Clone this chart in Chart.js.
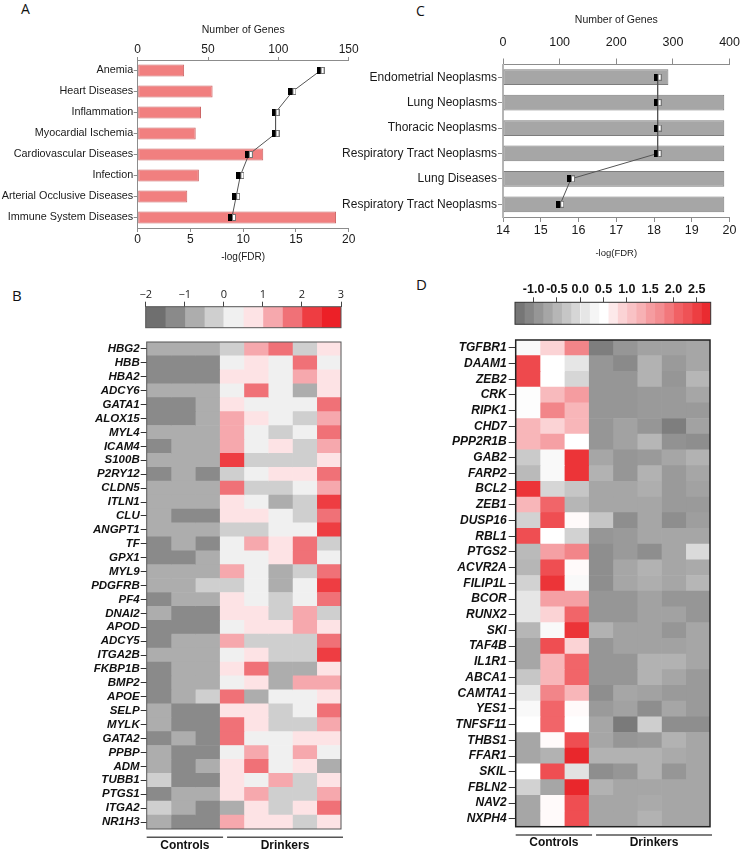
<!DOCTYPE html>
<html>
<head>
<meta charset="utf-8">
<script src="https://cdn.jsdelivr.net/npm/chart.js@4.4.0/dist/chart.umd.min.js"></script>
<style>
  body { margin: 0; background: #fff; }
  #wrap { position: relative; width: 748px; height: 850px; overflow: hidden; }
  canvas { position: absolute; }
  .tag { position: absolute; font-family: 'Open Sans', sans-serif; line-height: 1; color: #111; }
</style>
</head>
<body>
<div id="wrap">
  <div class="tag" style="left:21px;top:2px;font-size:14px">A</div>
  <div class="tag" style="left:416px;top:4px;font-size:14px">C</div>
  <div class="tag" style="left:12px;top:288px;font-size:15px">B</div>
  <div class="tag" style="left:416px;top:277px;font-size:15px">D</div>

  <canvas id="chartA" width="370" height="270" style="left:0;top:0"></canvas>
  <canvas id="chartC" width="418" height="270" style="left:330px;top:0"></canvas>
  <canvas id="scaleB" width="230" height="56" style="left:130px;top:276px"></canvas>
  <canvas id="heatB" width="360" height="516" style="left:0;top:334px"></canvas>
  <canvas id="scaleD" width="248" height="60" style="left:500px;top:270px"></canvas>
  <canvas id="heatD" width="378" height="520" style="left:370px;top:330px"></canvas>
</div>
<script>
// ---- panel A: diseases (blood) ----
const diseasesA = ['Anemia', 'Heart Diseases', 'Inflammation', 'Myocardial Ischemia',
  'Cardiovascular Diseases', 'Infection', 'Arterial Occlusive Diseases', 'Immune System Diseases'];
const fdrA = [4.4, 7.1, 6.0, 5.5, 11.9, 5.8, 4.7, 18.8];
const genesA = [130, 110, 98, 98, 79, 73, 70, 67];

// ---- panel C: diseases (lung) ----
const diseasesC = ['Endometrial Neoplasms', 'Lung Neoplasms', 'Thoracic Neoplasms',
  'Respiratory Tract Neoplasms', 'Lung Diseases', 'Respiratory Tract Neoplasms'];
const fdrC = [18.38, 19.86, 19.86, 19.86, 19.86, 19.86];
const genesC = [273, 273, 273, 273, 120, 101];

// ---- panel B heatmap ----
const genesB = ['HBG2', 'HBB', 'HBA2', 'ADCY6', 'GATA1', 'ALOX15', 'MYL4', 'ICAM4', 'S100B', 'P2RY12',
  'CLDN5', 'ITLN1', 'CLU', 'ANGPT1', 'TF', 'GPX1', 'MYL9', 'PDGFRB', 'PF4', 'DNAI2', 'APOD', 'ADCY5',
  'ITGA2B', 'FKBP1B', 'BMP2', 'APOE', 'SELP', 'MYLK', 'GATA2', 'PPBP', 'ADM', 'TUBB1', 'PTGS1', 'ITGA2', 'NR1H3'];
// 3 controls, 5 drinkers
const valsB = [
  [-0.75, -0.75, -0.75, -0.25, 1.25, 1.75, -0.25, 0.75],
  [-1.25, -1.25, -1.25, 0.25, 0.75, 0.25, 1.75, 0.25],
  [-1.25, -1.25, -1.25, 0.75, 0.75, 0.25, 1.25, 0.75],
  [-0.75, -0.75, -0.75, 0.25, 1.75, 0.25, -0.75, 0.75],
  [-1.25, -1.25, -0.75, 0.75, 0.25, 0.25, 0.25, 1.75],
  [-1.25, -1.25, -0.75, 1.25, 0.75, 0.25, -0.25, 1.25],
  [-0.75, -0.75, -0.75, 1.25, 0.25, -0.25, 0.25, 1.75],
  [-1.25, -0.75, -0.75, 1.25, 0.25, 0.75, -0.25, 1.25],
  [-0.75, -0.75, -0.75, 2.25, -0.25, -0.25, -0.25, 0.75],
  [-1.25, -0.75, -1.25, -0.25, 0.25, 0.75, 0.75, 1.75],
  [-0.75, -0.75, -0.75, 1.75, -0.25, -0.25, 0.25, 1.25],
  [-0.75, -0.75, -0.75, 0.75, 0.25, -0.75, -0.25, 2.25],
  [-0.75, -1.25, -1.25, 0.75, 0.75, 0.25, -0.25, 1.75],
  [-0.75, -0.75, -0.75, -0.25, -0.25, 0.25, 0.25, 2.25],
  [-1.25, -0.75, -1.25, 0.25, 1.25, 0.75, 1.75, -0.25],
  [-1.25, -1.25, -0.75, 0.25, 0.25, 0.75, 1.75, 0.25],
  [-0.75, -0.75, -0.75, 1.25, 0.25, -0.75, -0.25, 1.75],
  [-0.75, -0.75, -0.25, -0.25, 0.25, -0.75, 0.25, 2.25],
  [-1.25, -0.75, -0.75, 0.75, 0.25, -0.25, 0.25, 1.75],
  [-0.75, -1.25, -1.25, 0.75, 0.75, -0.25, 1.25, -0.25],
  [-1.25, -1.25, -1.25, 0.25, 0.75, 0.75, 1.25, 0.75],
  [-1.25, -0.75, -0.75, 1.25, -0.25, -0.25, -0.25, 1.75],
  [-0.75, -0.75, -0.75, 0.25, 0.75, -0.25, -0.25, 2.25],
  [-1.25, -0.75, -0.75, 0.75, 1.75, -0.75, -0.75, 0.75],
  [-1.25, -0.75, -0.75, 0.25, 0.75, -0.75, 1.25, 1.25],
  [-1.25, -0.75, -0.25, 1.75, -0.75, 0.25, 0.25, 0.75],
  [-0.75, -1.25, -1.25, 0.75, 0.75, -0.25, 0.25, 1.75],
  [-0.75, -1.25, -1.25, 1.75, 0.75, -0.25, -0.25, 1.25],
  [-1.25, -0.75, -1.25, 1.75, 0.25, 0.25, 0.75, 0.75],
  [-0.75, -1.25, -1.25, 0.25, 1.25, 0.25, 1.25, 0.25],
  [-0.75, -1.25, -0.75, 0.75, 1.75, 0.25, 0.75, -0.75],
  [-0.25, -1.25, -1.25, 0.75, 0.25, 1.25, -0.25, 0.75],
  [-1.25, -0.75, -0.75, 0.75, 1.25, -0.25, -0.25, 1.25],
  [-0.25, -0.75, -1.25, -0.75, 0.75, -0.25, 0.75, 1.75],
  [-0.75, -1.25, -1.25, 1.25, 0.75, 0.75, -0.25, 0.75]
];
const edgesB = [-2, -1.5, -1, -0.5, 0, 0.5, 1, 1.5, 2, 2.5, 3];
const paletteB = ['#6f6f6f', '#8a8a8a', '#adadad', '#cfcfcf', '#f0f0f0',
  '#fde3e5', '#f6a8ad', '#f07177', '#ee3d42', '#ec2027'];

// ---- panel D heatmap ----
const genesD = ['TGFBR1', 'DAAM1', 'ZEB2', 'CRK', 'RIPK1', 'CHD7', 'PPP2R1B', 'GAB2', 'FARP2', 'BCL2',
  'ZEB1', 'DUSP16', 'RBL1', 'PTGS2', 'ACVR2A', 'FILIP1L', 'BCOR', 'RUNX2', 'SKI', 'TAF4B', 'IL1R1',
  'ABCA1', 'CAMTA1', 'YES1', 'TNFSF11', 'THBS1', 'FFAR1', 'SKIL', 'FBLN2', 'NAV2', 'NXPH4'];
const valsD = [
  [0.35, 0.9, 1.8, -1.2, -0.9, -0.75, -0.75, -0.7],
  [2.4, 0.5, 0.1, -0.9, -1.05, -0.55, -0.85, -0.7],
  [2.4, 0.5, -0.1, -0.9, -0.9, -0.55, -0.9, -0.5],
  [0.4, 1.2, 1.5, -0.9, -0.9, -0.85, -0.85, -0.7],
  [0.4, 1.8, 1.25, -0.9, -0.9, -0.85, -0.85, -0.85],
  [1.25, 0.9, 1.25, -0.9, -0.75, -0.9, -1.2, -0.75],
  [1.25, 1.45, 0.5, -0.9, -0.75, -0.5, -0.95, -1.0],
  [-0.25, 0.35, 2.6, -0.7, -0.9, -0.85, -0.7, -0.55],
  [-0.45, 0.35, 2.6, -0.55, -0.9, -0.55, -0.85, -0.7],
  [2.6, -0.1, -0.3, -0.7, -0.7, -0.6, -0.85, -0.75],
  [1.25, 2.05, -0.5, -0.7, -0.7, -0.7, -0.85, -0.85],
  [-0.15, 2.35, 0.55, -0.3, -1.0, -0.7, -1.0, -0.8],
  [2.35, 0.5, -0.15, -0.9, -0.85, -0.7, -0.7, -0.7],
  [-0.45, 1.45, 1.8, -1.0, -0.85, -1.0, -0.7, -0.05],
  [-0.5, 2.35, 0.55, -1.0, -0.7, -0.55, -0.7, -0.65],
  [-0.15, 2.6, 0.35, -1.0, -0.7, -0.6, -0.7, -0.5],
  [0.1, 1.45, 1.45, -0.9, -0.9, -0.75, -0.9, -0.9],
  [0.1, 0.9, 2.05, -0.9, -0.9, -0.75, -0.75, -0.9],
  [-0.5, 0.35, 2.6, -0.55, -0.75, -0.75, -0.9, -0.7],
  [-0.7, 2.35, 0.9, -0.9, -0.75, -0.75, -0.75, -0.7],
  [-0.7, 1.25, 2.05, -0.9, -0.9, -0.55, -0.55, -0.7],
  [-0.3, 1.25, 2.05, -0.9, -0.9, -0.55, -0.7, -0.85],
  [0.1, 1.8, 1.25, -1.0, -0.7, -0.75, -0.85, -0.85],
  [0.35, 2.05, 0.55, -0.85, -0.75, -1.0, -0.7, -0.85],
  [0.5, 2.05, 0.5, -0.7, -1.25, -0.2, -1.0, -1.0],
  [-0.7, 0.55, 2.35, -0.7, -0.9, -0.85, -0.55, -0.7],
  [-0.7, -0.55, 2.75, -0.55, -0.55, -0.55, -0.65, -0.7],
  [0.5, 2.35, 0.05, -1.0, -0.9, -0.55, -0.9, -0.7],
  [-0.15, -0.7, 2.75, -0.55, -0.7, -0.7, -0.7, -0.7],
  [-0.7, 0.55, 2.35, -0.7, -0.7, -0.65, -0.7, -0.7],
  [-0.7, 0.55, 2.35, -0.7, -0.7, -0.55, -0.7, -0.7]
];
const edgesD = [-1.4, -1.2, -1.0, -0.8, -0.6, -0.4, -0.2, 0.0, 0.2, 0.4, 0.6,
  0.8, 1.0, 1.2, 1.4, 1.6, 1.8, 2.0, 2.2, 2.4, 2.6, 2.8];
const ticksD = [-1.0, -0.5, 0.0, 0.5, 1.0, 1.5, 2.0, 2.5];
const rampD = [
  [-1.4, [110, 110, 110]], [0.42, [255, 255, 255]], [0.5, [255, 255, 255]],
  [0.9, [251, 211, 213]], [1.25, [248, 182, 185]], [1.45, [245, 160, 164]],
  [1.8, [242, 133, 137]], [2.05, [241, 101, 105]], [2.35, [239, 78, 82]],
  [2.6, [236, 52, 56]], [2.8, [232, 35, 40]]
];

const groupNames = ['Controls', 'Drinkers'];
const groupSpans = [[0, 3], [3, 8]];

// ---------- helpers ----------
const FONT = "'Liberation Sans', Arial, Helvetica, sans-serif";
Chart.defaults.font.family = FONT;
Chart.defaults.color = '#1a1a1a';
Chart.defaults.animation = false;
Chart.defaults.plugins.legend.display = false;
Chart.defaults.plugins.tooltip.enabled = false;

const colorB = (v) => {
  for (let i = 0; i < paletteB.length; i++) {
    if (v >= edgesB[i] && v < edgesB[i + 1]) return paletteB[i];
  }
  return v < edgesB[0] ? paletteB[0] : paletteB[paletteB.length - 1];
};

const colorD = (v) => {
  if (v <= rampD[0][0]) return `rgb(${rampD[0][1].join(',')})`;
  for (let i = 1; i < rampD.length; i++) {
    if (v <= rampD[i][0]) {
      const [v0, c0] = rampD[i - 1], [v1, c1] = rampD[i];
      const t = (v - v0) / (v1 - v0);
      const c = c0.map((k, j) => Math.round(k + (c1[j] - k) * t));
      return `rgb(${c.join(',')})`;
    }
  }
  return `rgb(${rampD[rampD.length - 1][1].join(',')})`;
};

// half black / half white square used on the gene count line
const makeMarker = () => {
  const c = document.createElement('canvas');
  c.width = 8; c.height = 7;
  const g = c.getContext('2d');
  g.fillStyle = '#fff'; g.fillRect(4, 0, 4, 7);
  g.strokeStyle = '#777'; g.lineWidth = 1; g.strokeRect(4.5, 0.5, 3, 6);
  g.fillStyle = '#000'; g.fillRect(0, 0, 4, 7);
  return c;
};
const marker = makeMarker();

const boxBorder = {
  id: 'boxBorder',
  afterDatasetsDraw(chart, args, opts) {
    if (!opts || !opts.color) return;
    const a = chart.chartArea, ctx = chart.ctx;
    ctx.save();
    ctx.strokeStyle = opts.color;
    ctx.lineWidth = opts.width || 1;
    ctx.strokeRect(a.left, a.top, a.right - a.left, a.bottom - a.top);
    ctx.restore();
  }
};

const groupLabels = {
  id: 'groupLabels',
  afterDraw(chart, args, opts) {
    if (!opts || !opts.lineGap) return;
    const xs = chart.scales.x, a = chart.chartArea, ctx = chart.ctx;
    ctx.save();
    groupSpans.forEach((span, i) => {
      const x0 = xs.getPixelForValue(span[0]) + (i === 0 ? 0 : 7.5);
      const x1 = xs.getPixelForValue(span[1]) + (i === 0 ? 3.5 : 2);
      const yl = a.bottom + opts.lineGap;
      ctx.strokeStyle = '#555';
      ctx.lineWidth = 1.5;
      ctx.beginPath(); ctx.moveTo(x0, yl); ctx.lineTo(x1, yl); ctx.stroke();
      ctx.fillStyle = '#111';
      ctx.font = `bold 12px ${FONT}`;
      ctx.textAlign = 'center';
      ctx.textBaseline = 'middle';
      ctx.fillText(groupNames[i], (x0 + x1) / 2, a.bottom + opts.textGap);
    });
    ctx.restore();
  }
};
Chart.register(boxBorder, groupLabels);

const axisGrey = '#8c8c8c';
const tickGrid = (len, color) => ({ display: true, drawOnChartArea: false, tickLength: len, color: color });

// ---------- Panel A ----------
new Chart(document.getElementById('chartA'), {
  type: 'bar',
  data: {
    labels: diseasesA,
    datasets: [
      {
        type: 'line', data: genesA, xAxisID: 'x2', yAxisID: 'y', order: 0,
        borderColor: '#555', borderWidth: 1, pointStyle: marker, pointRadius: 4, fill: false
      },
      {
        type: 'bar', data: fdrA, xAxisID: 'x', yAxisID: 'y', order: 1,
        backgroundColor: '#f17f7f', borderColor: '#cc6666', borderWidth: 1, borderSkipped: false,
        categoryPercentage: 1, barPercentage: 0.57
      }
    ]
  },
  options: {
    indexAxis: 'y',
    responsive: false,
    layout: { padding: { top: 16, right: 21.3, bottom: 2, left: 0 } },
    scales: {
      x: {
        type: 'linear', position: 'bottom', min: 0, max: 20,
        ticks: { stepSize: 5, padding: 0, font: { size: 12 }, maxRotation: 0 },
        grid: tickGrid(4, axisGrey), border: { color: axisGrey },
        title: { display: true, text: '-log(FDR)', font: { size: 10 }, padding: { top: 0, bottom: 5 } },
        afterFit: (s) => { s.height = 40; }
      },
      x2: {
        type: 'linear', axis: 'x', position: 'top', min: 0, max: 150,
        ticks: { stepSize: 50, padding: 0, font: { size: 12 }, maxRotation: 0 },
        grid: tickGrid(3, axisGrey), border: { color: axisGrey },
        title: { display: true, text: 'Number of Genes', font: { size: 10.5 }, padding: { top: 8, bottom: 0 } },
        afterFit: (s) => { s.height = 44; }
      },
      y: {
        type: 'category',
        ticks: { padding: 0.5, autoSkip: false, font: { size: 10.8 } },
        grid: Object.assign(tickGrid(4, axisGrey), { offset: false }),
        border: { color: axisGrey },
        afterFit: (s) => { s.width = 137.7; }
      }
    }
  }
});

// ---------- Panel C ----------
new Chart(document.getElementById('chartC'), {
  type: 'bar',
  data: {
    labels: diseasesC,
    datasets: [
      {
        type: 'line', data: genesC, xAxisID: 'x2', yAxisID: 'y', order: 0,
        borderColor: '#555', borderWidth: 1, pointStyle: marker, pointRadius: 4, fill: false
      },
      {
        type: 'bar', data: fdrC, base: 14, xAxisID: 'x', yAxisID: 'y', order: 1,
        backgroundColor: '#a6a6a6', borderColor: '#7d7d7d', borderWidth: 1, borderSkipped: false,
        categoryPercentage: 1, barPercentage: 0.62
      }
    ]
  },
  options: {
    indexAxis: 'y',
    responsive: false,
    layout: { padding: { top: 4, right: 18.3, bottom: 3, left: 0 } },
    scales: {
      x: {
        type: 'linear', position: 'bottom', min: 14, max: 20,
        ticks: { stepSize: 1, padding: 1.5, font: { size: 12.5 }, maxRotation: 0 },
        grid: tickGrid(5, axisGrey), border: { color: axisGrey },
        title: { display: true, text: '-log(FDR)', font: { size: 9.5 }, padding: { top: 0, bottom: 8 } },
        afterFit: (s) => { s.height = 50; }
      },
      x2: {
        type: 'linear', axis: 'x', position: 'top', min: 0, max: 400,
        ticks: { stepSize: 100, padding: 8, font: { size: 12.5 }, maxRotation: 0 },
        grid: tickGrid(6, axisGrey), border: { color: axisGrey },
        title: { display: true, text: 'Number of Genes', font: { size: 10.5 }, padding: { top: 9.7, bottom: 0 } },
        afterFit: (s) => { s.height = 60.5; }
      },
      y: {
        type: 'category',
        ticks: { padding: 1, autoSkip: false, font: { size: 12 } },
        grid: Object.assign(tickGrid(5, axisGrey), { offset: false }),
        border: { color: '#b5b5b5', width: 2 },
        afterFit: (s) => { s.width = 173; }
      }
    }
  }
});

// ---------- colour keys ----------
new Chart(document.getElementById('scaleB'), {
  type: 'bar',
  data: {
    labels: [''],
    datasets: paletteB.map((c, i) => ({
      data: [[edgesB[i], edgesB[i + 1]]], backgroundColor: c, borderWidth: 0,
      grouped: false, barPercentage: 1, categoryPercentage: 1
    }))
  },
  options: {
    indexAxis: 'y',
    responsive: false,
    layout: { padding: { top: 6.7, right: 19, bottom: 4.3, left: 15.7 } },
    plugins: { boxBorder: { color: '#555', width: 1 } },
    scales: {
      x: {
        type: 'linear', position: 'top', min: -2, max: 3,
        ticks: {
          stepSize: 1, padding: 0, maxRotation: 0, color: '#222',
          font: { family: "'Open Sans', sans-serif", size: 11 },
          callback: (v) => String(v).replace('-', '\u2212')
        },
        grid: tickGrid(5, '#444'), border: { display: false },
        afterFit: (s) => { s.height = 24; }
      },
      y: { display: false }
    }
  }
});

new Chart(document.getElementById('scaleD'), {
  type: 'bar',
  data: {
    labels: [''],
    datasets: edgesD.slice(0, -1).map((e, i) => ({
      data: [[e, edgesD[i + 1]]], backgroundColor: colorD((e + edgesD[i + 1]) / 2), borderWidth: 0,
      grouped: false, barPercentage: 1, categoryPercentage: 1
    }))
  },
  options: {
    indexAxis: 'y',
    responsive: false,
    layout: { padding: { top: 6, right: 37.3, bottom: 5.7, left: 15 } },
    plugins: { boxBorder: { color: '#333', width: 1 } },
    scales: {
      x: {
        type: 'linear', position: 'top', min: edgesD[0], max: edgesD[edgesD.length - 1],
        afterBuildTicks: (s) => { s.ticks = ticksD.map((v) => ({ value: v })); },
        ticks: {
          padding: 0, maxRotation: 0, autoSkip: false, color: '#111',
          font: { size: 12.5, weight: 'bold' },
          callback: (v) => Number(v).toFixed(1)
        },
        grid: tickGrid(5, '#444'), border: { display: false },
        afterFit: (s) => { s.height = 26.3; }
      },
      y: { display: false }
    }
  }
});

// ---------- heatmaps ----------
const heatmap = (id, genes, vals, colorFn, opt) => new Chart(document.getElementById(id), {
  type: 'bar',
  data: {
    labels: genes,
    datasets: vals[0].map((_, c) => ({
      data: genes.map(() => [c, c + 1]),
      backgroundColor: (ctx) => colorFn(vals[ctx.dataIndex][c]),
      borderWidth: 0, grouped: false, barPercentage: 1, categoryPercentage: 1
    }))
  },
  options: {
    indexAxis: 'y',
    responsive: false,
    layout: { padding: opt.padding },
    plugins: {
      boxBorder: { color: opt.boxColor, width: opt.boxWidth },
      groupLabels: { lineGap: 8.3, textGap: opt.textGap }
    },
    scales: {
      x: { type: 'linear', min: 0, max: vals[0].length, display: false },
      y: {
        type: 'category',
        ticks: {
          padding: opt.tickPad, autoSkip: false, color: '#111',
          font: { size: opt.fontSize, weight: 'bold', style: 'italic' }
        },
        grid: Object.assign(tickGrid(opt.tickLen, '#333'), { offset: false }),
        border: { display: false },
        afterFit: (s) => { s.width = opt.axisWidth; }
      }
    }
  }
});

heatmap('heatB', genesB, valsB, colorB, {
  padding: { top: 8, right: 19, bottom: 21, left: 0 },
  boxColor: '#555', boxWidth: 1, textGap: 17,
  tickPad: 1, tickLen: 6, fontSize: 11.5, axisWidth: 146.7
});

heatmap('heatD', genesD, valsD, colorD, {
  padding: { top: 10, right: 38, bottom: 23.3, left: 0 },
  boxColor: '#222', boxWidth: 1.5, textGap: 16,
  tickPad: 2, tickLen: 7, fontSize: 12, axisWidth: 145.7
});
</script>
</body>
</html>
